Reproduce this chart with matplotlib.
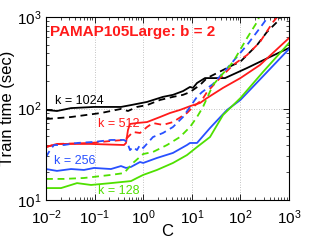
import matplotlib
matplotlib.use("Agg")
import matplotlib.pyplot as plt
from matplotlib.ticker import LogLocator, NullFormatter

plt.rcParams['font.family'] = ['Liberation Sans', 'DejaVu Sans']
plt.rcParams['mathtext.fontset'] = 'custom'
plt.rcParams['mathtext.rm'] = 'Liberation Sans'
plt.rcParams['mathtext.it'] = 'Liberation Sans'
plt.rcParams['mathtext.default'] = 'regular'

# ---- data ----
k1024_solid_C = [0.01, 0.0168, 0.0327, 0.0973, 0.349, 0.561, 1.20, 2.55, 4.10, 6.59, 9.18, 10.6, 12.8, 18.7, 48.2, 137, 406, 1000]
k1024_solid_T = [96.4, 93.9, 101, 104, 104, 109, 118, 134, 141, 155, 172, 168, 190, 215, 215, 277, 366, 458]
k1024_dash_C = [0.01, 0.0327, 0.1356, 0.349, 0.486, 0.745, 1.20, 2.22, 4.10, 6.59, 9.18, 14.8, 20.5, 33.0, 70.5, 98.2, 220, 352, 566, 718]
k1024_dash_T = [76.7, 80.7, 89.3, 98.9, 93.9, 104, 109, 124, 134, 141, 151, 181, 215, 244, 299, 322, 494, 686, 881, 1052]

k512_solid_C = [0.01, 0.0168, 0.0844, 0.403, 0.443, 0.486, 0.535, 0.745, 1.20, 2.22, 3.56, 5.71, 9.18, 14.8, 20.5, 43.9, 100, 253, 1000]
k512_solid_T = [37.9, 41.0, 41.0, 39.9, 42.0, 58.2, 67.8, 69.4, 71.1, 80.7, 89.3, 96.4, 106, 115, 130, 168, 215, 299, 589]
k512_dash_C = [0.01, 0.0168, 0.0844, 0.217, 0.403, 0.465, 0.617, 0.859, 1.20, 1.59, 2.55, 4.10, 7.96, 10.6, 16.2, 20.5, 38.0, 70.5, 137, 253, 469, 622]
k512_dash_T = [37.9, 41.0, 42.0, 44.2, 45.3, 47.6, 55.4, 54.0, 62.8, 69.4, 66.1, 71.1, 89.3, 104, 124, 151, 215, 299, 384, 533, 881, 1052]

k256_solid_C = [0.01, 0.0168, 0.0327, 0.0605, 0.0973, 0.217, 0.349, 0.443, 0.561, 0.859, 1.0, 1.92, 4.10, 7.96, 9.18, 12.8, 23.7, 53.0, 100, 1000]
k256_solid_T = [21.8, 20.8, 21.8, 21.3, 22.4, 21.8, 23.5, 22.4, 23.0, 26.0, 25.4, 28.8, 32.7, 39.9, 42.0, 42.0, 61.2, 96.4, 124, 447]
k256_dash_C = [0.01, 0.0121, 0.0146, 0.0234, 0.0435, 0.0973, 0.217, 0.403, 0.465, 0.535, 0.617, 0.745, 0.859, 1.0, 1.59, 2.55, 4.10, 6.59, 9.18, 12.8, 16.2, 27.3, 61.1, 137, 253, 370]
k256_dash_T = [29.5, 35.1, 39.9, 39.9, 42.0, 43.1, 45.3, 45.3, 43.1, 35.1, 37.9, 35.1, 39.9, 37.0, 48.8, 54.0, 62.8, 80.7, 104, 134, 151, 185, 299, 494, 759, 1000]

k128_solid_C = [0.01, 0.0204, 0.0435, 0.0844, 0.217, 0.561, 0.745, 1.0, 1.92, 4.10, 7.96, 12.8, 23.7, 43.9, 100, 292, 1000]
k128_solid_T = [13.5, 13.5, 15.3, 14.6, 15.3, 16.1, 17.4, 18.8, 21.3, 25.4, 31.0, 37.9, 48.8, 84.9, 130, 251, 520]
k128_dash_C = [0.01, 0.0234, 0.0605, 0.217, 0.403, 0.617, 1.0, 1.59, 3.09, 5.71, 9.18, 12.8, 17.0, 27.3, 70.5, 137, 220, 253]
k128_dash_T = [17.0, 17.0, 17.4, 18.8, 19.7, 25.4, 31.8, 33.5, 39.9, 48.8, 62.8, 80.7, 104, 181, 322, 589, 881, 1052]

labels = ["k = 1024", "k = 512", "k = 256", "k = 128"]
title_text = "PAMAP105Large: b = 2"
xlabel_text = "C"
ylabel_text = "Train time (sec)"

# ---- styling ----
BLACK = '#000000'
RED = '#ff1a1a'
BLUE = '#2850ff'
GREEN = '#4fe000'
LW = 1.3
DASH = (3.8, 2.6)

fig = plt.figure(figsize=(3.19, 2.40), dpi=100)
ax = fig.add_axes([46/319, 1-200/240, 243/319, 183/240])

series = [
    (k1024_solid_C, k1024_solid_T, k1024_dash_C, k1024_dash_T, BLACK),
    (k512_solid_C, k512_solid_T, k512_dash_C, k512_dash_T, RED),
    (k256_solid_C, k256_solid_T, k256_dash_C, k256_dash_T, BLUE),
    (k128_solid_C, k128_solid_T, k128_dash_C, k128_dash_T, GREEN),
]
for sc, st, dc, dt, col in series:
    ax.plot(dc, dt, color=col, lw=LW, dashes=DASH)
    ax.plot(sc, st, color=col, lw=LW)

ax.set_xscale('log')
ax.set_yscale('log')
ax.set_xlim(0.01, 1000)
ax.set_ylim(10, 1000)

ax.xaxis.set_major_locator(LogLocator(base=10, numticks=10))
ax.yaxis.set_major_locator(LogLocator(base=10, numticks=10))
ax.xaxis.set_minor_locator(LogLocator(base=10, subs=range(2, 10), numticks=20))
ax.yaxis.set_minor_locator(LogLocator(base=10, subs=range(2, 10), numticks=20))
ax.xaxis.set_minor_formatter(NullFormatter())
ax.yaxis.set_minor_formatter(NullFormatter())

ax.grid(True, which='major', color='#b0b0b0', linestyle=(0, (1, 2)), linewidth=0.6)
ax.tick_params(which='both', direction='in', top=True, right=True, labelsize=11)
ax.tick_params(axis='x', pad=6)
ax.tick_params(axis='y', pad=3)
ax.tick_params(which='major', length=4, width=0.6)
ax.tick_params(which='minor', length=2, width=0.5)
for sp in ax.spines.values():
    sp.set_linewidth(0.8)

ax.set_xlabel(xlabel_text, fontsize=12, labelpad=-2)
ax.set_ylabel(ylabel_text, fontsize=12, labelpad=2)

tf = ax.transAxes
def axpos(px, py):
    return ((px-46)/243, (200-py)/183)

ax.text(*axpos(50, 32), title_text, transform=tf, color=RED, fontsize=11,
        fontweight='bold', ha='left', va='center')
ax.text(*axpos(55, 101), labels[0], transform=tf, color=BLACK, fontsize=9, ha='left', va='center')
ax.text(*axpos(98, 124), labels[1], transform=tf, color=RED, fontsize=9, ha='left', va='center')
ax.text(*axpos(54, 161), labels[2], transform=tf, color=BLUE, fontsize=9, ha='left', va='center')
ax.text(*axpos(98, 191), labels[3], transform=tf, color=GREEN, fontsize=9, ha='left', va='center')

fig.savefig('out.png', dpi=100)
